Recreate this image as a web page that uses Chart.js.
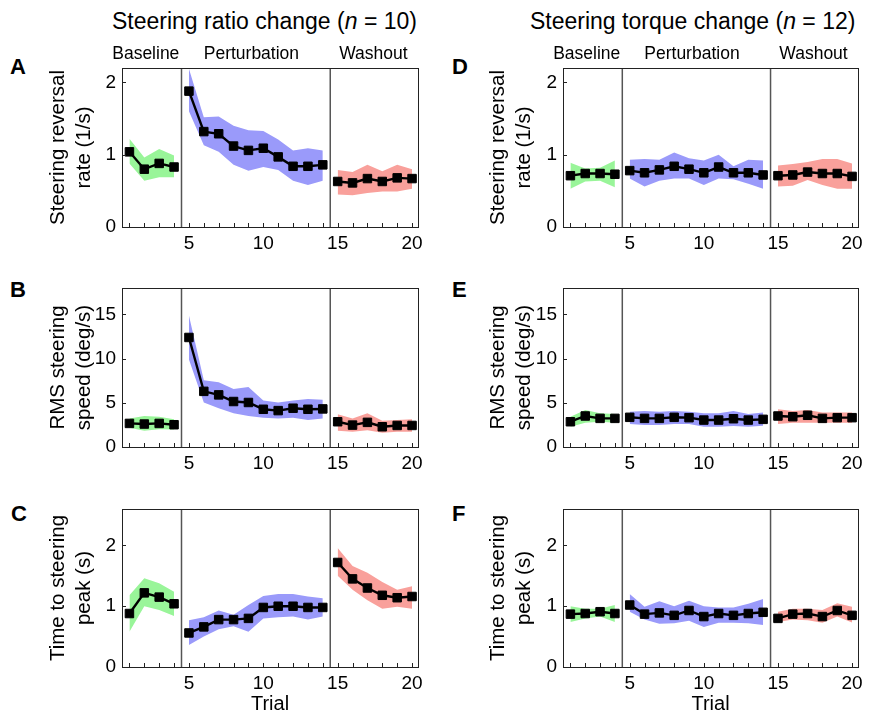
<!DOCTYPE html>
<html>
<head>
<meta charset="utf-8">
<script src="https://cdn.jsdelivr.net/npm/chart.js@4.4.1/dist/chart.umd.min.js"></script>
<style>
  body { margin: 0; background: #fff; font-family: "Liberation Sans", Arial, sans-serif; }
  #fig { position: relative; width: 875px; height: 713px; overflow: hidden; }
  canvas { position: absolute; }
  .txt { position: absolute; white-space: nowrap; color: #000; }
  .colt { font-size: 23px; top: 8px; }
  .phase { font-size: 17.5px; top: 43px; transform: translateX(-50%); }
  .let { font-size: 22px; font-weight: bold; }
</style>
</head>
<body>
<div id="fig">
  <div class="txt colt" style="left:112px">Steering ratio change (<i>n</i> = 10)</div>
  <div class="txt colt" style="left:530px">Steering torque change (<i>n</i> = 12)</div>
  <div class="txt let" style="left:10px;top:54px">A</div>
  <div class="txt let" style="left:10px;top:277px">B</div>
  <div class="txt let" style="left:11px;top:501px">C</div>
  <div class="txt let" style="left:452px;top:54px">D</div>
  <div class="txt let" style="left:452px;top:277px">E</div>
  <div class="txt let" style="left:452px;top:501px">F</div>
  <canvas id="pA" width="440" height="207" style="left:0;top:60px"></canvas>
  <canvas id="pB" width="440" height="207" style="left:0;top:280px"></canvas>
  <canvas id="pC" width="440" height="215" style="left:0;top:501px"></canvas>
  <canvas id="pD" width="435" height="207" style="left:440px;top:60px"></canvas>
  <canvas id="pE" width="435" height="207" style="left:440px;top:280px"></canvas>
  <canvas id="pF" width="435" height="215" style="left:440px;top:501px"></canvas>
</div>
<script>
// trials and phases
const trials = [1, 2, 3, 4, 5, 6, 7, 8, 9, 10, 11, 12, 13, 14, 15, 16, 17, 18, 19, 20];
const xLabels = [5, 10, 15, 20];
const phaseNames = ["Baseline", "Perturbation", "Washout"];
const phaseFirst = [1, 5, 15];
const phaseLast = [4, 14, 20];
const phaseLabelX = [2.1, 9.2, 17.4];
const phaseBounds = [4.5, 14.5];
const phaseColors = ["#99f599", "#9a9afa", "#f9a09b"];

const revTicks = [0, 1, 2];
const spdTicks = [0, 5, 10, 15];
const pkTicks = [0, 1, 2];

// steering ratio change
const revRatio   = [1.04, 0.80, 0.88, 0.83, 1.88, 1.32, 1.29, 1.12, 1.06, 1.09, 0.97, 0.84, 0.84, 0.86, 0.63, 0.61, 0.67, 0.63, 0.68, 0.67];
const revRatioHi = [1.22, 0.96, 1.08, 0.99, 2.19, 1.52, 1.53, 1.40, 1.34, 1.33, 1.21, 1.06, 1.09, 1.06, 0.79, 0.76, 0.86, 0.77, 0.86, 0.80];
const revRatioLo = [0.88, 0.64, 0.69, 0.69, 1.60, 1.13, 1.04, 0.86, 0.78, 0.83, 0.79, 0.64, 0.58, 0.64, 0.45, 0.44, 0.47, 0.49, 0.49, 0.53];

const spdRatio   = [2.67, 2.60, 2.67, 2.52, 12.4, 6.30, 5.90, 5.15, 5.04, 4.27, 4.12, 4.39, 4.27, 4.31, 2.86, 2.48, 2.79, 2.29, 2.44, 2.44];
const spdRatioHi = [3.24, 3.51, 3.43, 3.13, 14.9, 7.56, 7.33, 6.56, 6.80, 5.27, 5.04, 5.27, 5.42, 5.34, 3.70, 3.24, 3.82, 2.98, 3.05, 3.13];
const spdRatioLo = [2.18, 1.83, 2.02, 1.98, 9.90, 5.04, 4.39, 3.82, 3.51, 3.32, 3.24, 3.32, 3.05, 3.24, 1.83, 1.72, 1.91, 1.60, 1.72, 1.72];

const pkRatio   = [0.88, 1.22, 1.15, 1.04, 0.56, 0.66, 0.78, 0.78, 0.80, 0.98, 1.00, 1.00, 0.98, 0.98, 1.72, 1.45, 1.30, 1.18, 1.14, 1.16];
const pkRatioHi = [1.18, 1.46, 1.38, 1.24, 0.77, 0.82, 0.93, 0.86, 1.02, 1.17, 1.20, 1.20, 1.16, 1.13, 1.96, 1.66, 1.55, 1.40, 1.27, 1.33];
const pkRatioLo = [0.58, 1.00, 0.94, 0.84, 0.36, 0.50, 0.62, 0.67, 0.58, 0.80, 0.82, 0.83, 0.78, 0.83, 1.50, 1.27, 1.10, 0.96, 0.99, 0.96];

// steering torque change
const revTorque   = [0.71, 0.74, 0.74, 0.73, 0.78, 0.75, 0.79, 0.84, 0.80, 0.75, 0.83, 0.75, 0.75, 0.72, 0.71, 0.72, 0.76, 0.74, 0.74, 0.70];
const revTorqueHi = [0.89, 0.81, 0.82, 0.92, 0.93, 0.94, 0.93, 1.03, 0.95, 0.92, 1.00, 0.84, 0.93, 0.92, 0.85, 0.87, 0.90, 0.94, 0.94, 0.88];
const revTorqueLo = [0.53, 0.63, 0.64, 0.55, 0.67, 0.56, 0.64, 0.67, 0.67, 0.58, 0.67, 0.66, 0.60, 0.53, 0.56, 0.57, 0.65, 0.58, 0.53, 0.53];

const spdTorque   = [2.86, 3.51, 3.24, 3.24, 3.36, 3.24, 3.24, 3.36, 3.32, 3.05, 3.05, 3.20, 3.05, 3.13, 3.51, 3.43, 3.59, 3.24, 3.32, 3.32];
const spdTorqueHi = [3.43, 4.20, 3.82, 3.74, 4.00, 4.08, 4.00, 4.08, 4.00, 3.82, 3.82, 4.08, 3.74, 3.90, 4.27, 4.08, 4.20, 3.90, 3.90, 3.90];
const spdTorqueLo = [2.29, 2.75, 2.86, 2.75, 2.60, 2.48, 2.48, 2.60, 2.60, 2.29, 2.29, 2.37, 2.29, 2.40, 2.60, 2.75, 2.75, 2.75, 2.75, 2.75];

const pkTorque   = [0.87, 0.88, 0.91, 0.88, 1.02, 0.87, 0.89, 0.85, 0.93, 0.83, 0.88, 0.85, 0.88, 0.90, 0.80, 0.87, 0.88, 0.83, 0.93, 0.85];
const pkTorqueHi = [1.00, 0.96, 0.96, 1.02, 1.20, 0.99, 1.08, 1.00, 1.09, 1.00, 0.98, 0.98, 1.04, 1.12, 0.91, 0.96, 0.96, 0.94, 1.05, 0.99];
const pkTorqueLo = [0.74, 0.80, 0.83, 0.74, 0.91, 0.78, 0.71, 0.72, 0.76, 0.66, 0.73, 0.73, 0.72, 0.69, 0.74, 0.78, 0.77, 0.73, 0.83, 0.73];

const FONT = "'Liberation Sans', Arial, sans-serif";

// box around the plot and inward tick marks
const frame = {
  id: "frame",
  afterDatasetsDraw(chart) {
    const { ctx, chartArea: a, scales: { x, y } } = chart;
    ctx.save();
    ctx.strokeStyle = "#222";
    ctx.lineWidth = 1;
    ctx.beginPath();
    x.ticks.forEach(t => {
      const px = Math.round(x.getPixelForValue(t.value)) + 0.5;
      ctx.moveTo(px, a.bottom);
      ctx.lineTo(px, a.bottom - 4);
    });
    y.ticks.forEach(t => {
      const py = Math.round(y.getPixelForValue(t.value)) + 0.5;
      ctx.moveTo(a.left, py);
      ctx.lineTo(a.left + 4, py);
    });
    ctx.stroke();
    ctx.strokeRect(Math.round(a.left) + 0.5, Math.round(a.top) + 0.5, Math.round(a.right - a.left), Math.round(a.bottom - a.top));
    ctx.restore();
  }
};

function makePanel(id, mean, lo, hi, yTicks, yMax, yTitle, opts) {
  const datasets = [];
  phaseFirst.forEach((first, p) => {
    const idx = [];
    trials.forEach((t, i) => { if (t >= first && t <= phaseLast[p]) idx.push(i); });
    const pts = arr => idx.map(i => ({ x: trials[i], y: arr[i] }));
    datasets.push({
      data: pts(mean), order: 0, borderColor: "#000", borderWidth: 2.4,
      pointStyle: "rect", pointRadius: 6, pointBackgroundColor: "#000", pointBorderColor: "#000", pointBorderWidth: 1
    });
    datasets.push({ data: pts(lo), order: 2, borderColor: "rgba(0,0,0,0)", pointRadius: 0, fill: false });
    datasets.push({ data: pts(hi), order: 2, borderColor: "rgba(0,0,0,0)", pointRadius: 0, fill: "-1", backgroundColor: phaseColors[p] });
  });
  phaseBounds.forEach(b => {
    datasets.push({
      data: [{ x: b, y: 0 }, { x: b, y: yMax }], order: 1,
      borderColor: "#555", borderWidth: 1.5, pointRadius: 0, fill: false
    });
  });

  const chart = new Chart(document.getElementById(id), {
    type: "line",
    data: { datasets },
    plugins: [frame],
    options: {
      responsive: false,
      animation: false,
      layout: { padding: { left: 0, right: opts.right, top: 8, bottom: 0 } },
      plugins: { legend: { display: false }, tooltip: { enabled: false } },
      scales: {
        x: {
          type: "linear", min: 0.5, max: 20.4,
          grid: { display: false, drawTicks: false },
          border: { display: false },
          afterBuildTicks: s => { s.ticks = trials.map(v => ({ value: v })); },
          ticks: {
            autoSkip: false, maxRotation: 0, padding: 5, color: "#000",
            font: { family: FONT, size: 19 },
            callback: v => (xLabels.includes(v) ? String(v) : "")
          },
          title: {
            display: !!opts.xTitle, text: opts.xTitle || "", color: "#000", padding: 0,
            font: { family: FONT, size: 20 }
          },
          afterFit: s => { s.height = opts.xh; s.paddingLeft = 0; s.paddingRight = 0; }
        },
        y: {
          min: 0, max: yMax,
          grid: { display: false, drawTicks: false },
          border: { display: false },
          afterBuildTicks: s => { s.ticks = yTicks.map(v => ({ value: v })); },
          ticks: { padding: 6, color: "#000", font: { family: FONT, size: 19 } },
          title: {
            display: true, text: yTitle, color: "#000", padding: { top: 45, bottom: 0 },
            font: { family: FONT, size: 20.5, lineHeight: 1.27 }
          },
          afterFit: s => { s.width = opts.yw; s.paddingTop = 0; s.paddingBottom = 0; }
        }
      }
    }
  });
  return chart;
}

const revTitle = ["Steering reversal", "rate (1/s)"];
const spdTitle = ["RMS steering", "speed (deg/s)"];
const pkTitle = ["Time to steering", "peak (s)"];

const leftTop = { right: 22, yw: 122, xh: 40 };
const leftBot = { right: 22, yw: 122, xh: 49, xTitle: "Trial" };
const rightTop = { right: 17, yw: 123, xh: 40 };
const rightBot = { right: 17, yw: 123, xh: 49, xTitle: "Trial" };

const cA = makePanel("pA", revRatio, revRatioLo, revRatioHi, revTicks, 2.2, revTitle, leftTop);
makePanel("pB", spdRatio, spdRatioLo, spdRatioHi, spdTicks, 18, spdTitle, leftTop);
makePanel("pC", pkRatio, pkRatioLo, pkRatioHi, pkTicks, 2.6, pkTitle, leftBot);
const cD = makePanel("pD", revTorque, revTorqueLo, revTorqueHi, revTicks, 2.2, revTitle, rightTop);
makePanel("pE", spdTorque, spdTorqueLo, spdTorqueHi, spdTicks, 18, spdTitle, rightTop);
makePanel("pF", pkTorque, pkTorqueLo, pkTorqueHi, pkTicks, 2.6, pkTitle, rightBot);

// phase labels above the top row, placed from the x scale
const fig = document.getElementById("fig");
[[cA, 0], [cD, 440]].forEach(([c, off]) => {
  phaseNames.forEach((name, p) => {
    const d = document.createElement("div");
    d.className = "txt phase";
    d.textContent = name;
    d.style.left = (off + c.scales.x.getPixelForValue(phaseLabelX[p])) + "px";
    fig.appendChild(d);
  });
});
</script>
</body>
</html>
